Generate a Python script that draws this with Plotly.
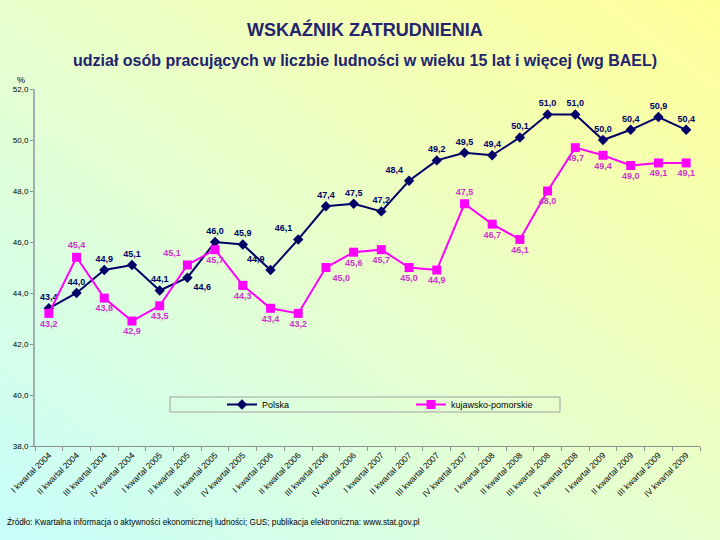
import base64
import plotly.graph_objects as go

years = ["2004", "2005", "2006", "2007", "2008", "2009"]
quarters = ["I", "II", "III", "IV"]
categories = [f"{q} kwartał {y}" for y in years for q in quarters]

polska = [43.4, 44.0, 44.9, 45.1, 44.1, 44.6, 46.0, 45.9, 44.9, 46.1, 47.4, 47.5,
          47.2, 48.4, 49.2, 49.5, 49.4, 50.1, 51.0, 51.0, 50.0, 50.4, 50.9, 50.4]
kujawsko = [43.2, 45.4, 43.8, 42.9, 43.5, 45.1, 45.7, 44.3, 43.4, 43.2, 45.0, 45.6,
            45.7, 45.0, 44.9, 47.5, 46.7, 46.1, 48.0, 49.7, 49.4, 49.0, 49.1, 49.1]

pos_pl = ["top center", "top center", "top center", "top center", "top center", "bottom right",
          "top center", "top center", "top left", "top left", "top center", "top center",
          "top center", "top left", "top center", "top center", "top center", "top center",
          "top center", "top center", "top center", "top center", "top center", "top center"]
pos_kp = ["bottom center", "top center", "bottom center", "bottom center", "bottom center", "top left",
          "bottom center", "bottom center", "bottom center", "bottom center", "bottom right", "bottom center",
          "bottom center", "bottom center", "bottom center", "top center", "bottom center", "bottom center",
          "bottom center", "bottom center", "bottom center", "bottom center", "bottom center", "bottom center"]

def fmt(v):
    return f"{v:.1f}".replace(".", ",")

FONT = "Liberation Sans, Arial, sans-serif"
W, H = 720, 540
ml, mr, mt, mb = 35, 20, 89, 94
pw, ph = W - ml - mr, H - mt - mb

def px(x):
    return (x - ml) / pw

def py(y):
    return 1 - (y - mt) / ph

svg = f'''<svg xmlns="http://www.w3.org/2000/svg" width="{W}" height="{H}" preserveAspectRatio="none">
<defs><linearGradient id="g" x1="0" y1="1" x2="1" y2="0">
<stop offset="0" stop-color="#c8fffc"/>
<stop offset="0.5" stop-color="#e8ffcc"/>
<stop offset="1" stop-color="#ffff99"/>
</linearGradient></defs>
<rect width="{W}" height="{H}" fill="url(#g)"/></svg>'''
src = "data:image/svg+xml;base64," + base64.b64encode(svg.encode()).decode()

fig = go.Figure()
fig.add_trace(go.Scatter(
    x=categories, y=polska, name="Polska", mode="lines+markers+text",
    line=dict(color="#000066", width=2),
    marker=dict(symbol="diamond", size=8, color="#000066"),
    text=[fmt(v) for v in polska], textposition=pos_pl, cliponaxis=False,
    textfont=dict(family=FONT, size=9, color="#000066", weight="bold"),
))
fig.add_trace(go.Scatter(
    x=categories, y=kujawsko, name="kujawsko-pomorskie", mode="lines+markers+text",
    line=dict(color="#ff00ff", width=2),
    marker=dict(symbol="square", size=9, color="#ff00ff"),
    text=[fmt(v) for v in kujawsko], textposition=pos_kp, cliponaxis=False,
    textfont=dict(family=FONT, size=9, color="#cc33cc", weight="bold"),
))

fig.update_layout(
    width=W, height=H,
    margin=dict(l=ml, r=mr, t=mt, b=mb, autoexpand=False),
    paper_bgcolor="rgba(0,0,0,0)", plot_bgcolor="rgba(0,0,0,0)",
    separators=", ",
    font=dict(family=FONT, color="#000000"),
    showlegend=True,
    legend=dict(orientation="h", x=px(222), xanchor="left", y=py(390), yanchor="top",
                borderwidth=0, bgcolor="rgba(0,0,0,0)", itemwidth=30,
                entrywidth=144, tracegroupgap=0,
                font=dict(family=FONT, size=9, color="#000000")),
    shapes=[dict(type="rect", xref="paper", yref="paper", x0=px(170), x1=px(560),
                 y0=py(412), y1=py(397), line=dict(color="#a0a0a0", width=1),
                 fillcolor="rgba(0,0,0,0)", layer="below")],
    images=[dict(source=src, xref="paper", yref="paper",
                 x=-ml / pw, y=1 + mt / ph, sizex=W / pw, sizey=H / ph,
                 xanchor="left", yanchor="top", sizing="stretch", layer="below")],
    xaxis=dict(type="category", tickangle=-45, tickson="boundaries", ticks="outside",
               ticklen=4, tickcolor="#909090", showline=True, linecolor="#909090",
               automargin=False, showgrid=False,
               tickfont=dict(family=FONT, size=8.5, color="#000000"), range=[-0.5, 23.5]),
    yaxis=dict(range=[38, 52], dtick=2, tickformat=".1f", ticks="outside", ticklen=3,
               tickcolor="#909090", showline=True, linecolor="#a0b0b0", linewidth=2,
               automargin=False, showgrid=False, zeroline=False,
               tickfont=dict(family=FONT, size=8, color="#000000")),
    annotations=[
        dict(text="WSKAŹNIK ZATRUDNIENIA", xref="paper", yref="paper", x=px(365), y=py(30),
             xanchor="center", yanchor="middle", showarrow=False,
             font=dict(family=FONT, size=18, color="#23236e", weight="bold")),
        dict(text="udział osób pracujących w liczbie ludności w wieku 15 lat i więcej (wg BAEL)",
             xref="paper", yref="paper", x=px(365), y=py(60), xanchor="center", yanchor="middle",
             showarrow=False, font=dict(family=FONT, size=16, color="#23236e", weight="bold")),
        dict(text="%", xref="paper", yref="paper", x=px(21), y=py(80), xanchor="center",
             yanchor="middle", showarrow=False, font=dict(family=FONT, size=9, color="#000000")),
        dict(text="Źródło: Kwartalna informacja o aktywności ekonomicznej ludności; GUS; publikacja elektroniczna: www.stat.gov.pl",
             xref="paper", yref="paper", x=px(5), y=py(522), xanchor="left", yanchor="middle",
             showarrow=False, font=dict(family=FONT, size=8.2, color="#000000")),
    ],
)

fig.write_html("out.html", config={"displayModeBar": False},
               post_script="document.body.style.margin='0';document.body.style.padding='0';")
